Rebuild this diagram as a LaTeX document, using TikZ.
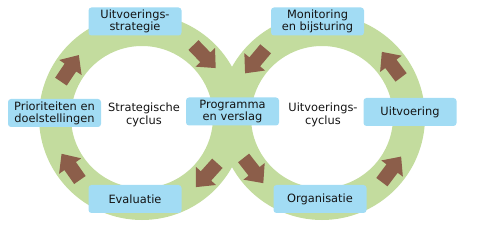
\documentclass[tikz,border=0pt]{standalone}
\usepackage{fontspec}
\setmainfont{DejaVu Sans}
\definecolor{ringgreen}{HTML}{C3DC9E}
\definecolor{boxblue}{HTML}{A2DCF4}
\definecolor{arrowbrown}{HTML}{8C5E4A}
\definecolor{txtgray}{HTML}{141414}
\tikzset{
  stage/.style={fill=boxblue, rounded corners=3pt, minimum width=93pt,
    minimum height=28pt, inner sep=1pt, align=center,
    font=\fontsize{11.4}{12.2}\selectfont, text=txtgray},
  cyclename/.style={align=center, font=\fontsize{11.4}{12.8}\selectfont, text=txtgray},
  blockarrow/.pic={
    \fill[arrowbrown] (-16,-7) -- (1,-7) -- (1,-13.5) -- (16,0)
      -- (1,13.5) -- (1,7) -- (-16,7) -- cycle;
  }
}
\begin{document}
\begin{tikzpicture}[x=1pt,y=1pt]
  \useasboundingbox (0,0) rectangle (479,245);
  % Centres of the two cycles
  \coordinate (lc) at (142,128);
  \coordinate (rc) at (322,128);
  % Green rings, mid radius 87pt, width 32pt
  \draw[ringgreen, line width=32pt] (lc) circle (87pt);
  \draw[ringgreen, line width=32pt] (rc) circle (87pt);
  % Arrows: left cycle runs clockwise
  \foreach \a in {146,44,-42,215}{
    \path (lc) ++(\a:87) pic[rotate=\a-90] {blockarrow};
  }
  % Arrows: right cycle runs counter-clockwise
  \foreach \a in {140,218,-37,37}{
    \path (rc) ++(\a:87) pic[rotate=\a+90] {blockarrow};
  }
  % Stages
  \node[stage] (strategie) at (135,223.5) {Uitvoerings-\\strategie};
  \node[stage] (prioriteit) at (54.5,132) {Prioriteiten en\\doelstellingen};
  \node[stage] (evaluatie) at (135,46) {Evaluatie};
  \node[stage] (programma) at (232.5,133.5) {Programma\\en verslag};
  \node[stage] (monitoring) at (317.5,223.5) {Monitoring\\en bijsturing};
  \node[stage] (uitvoering) at (410,133) {Uitvoering};
  \node[stage] (organisatie) at (320,46) {Organisatie};
  % Cycle names
  \node[cyclename] (strat) at (144,130) {Strategische\\cyclus};
  \node[cyclename] (uitv) at (323,130) {Uitvoerings-\\cyclus};
\end{tikzpicture}
\end{document}
